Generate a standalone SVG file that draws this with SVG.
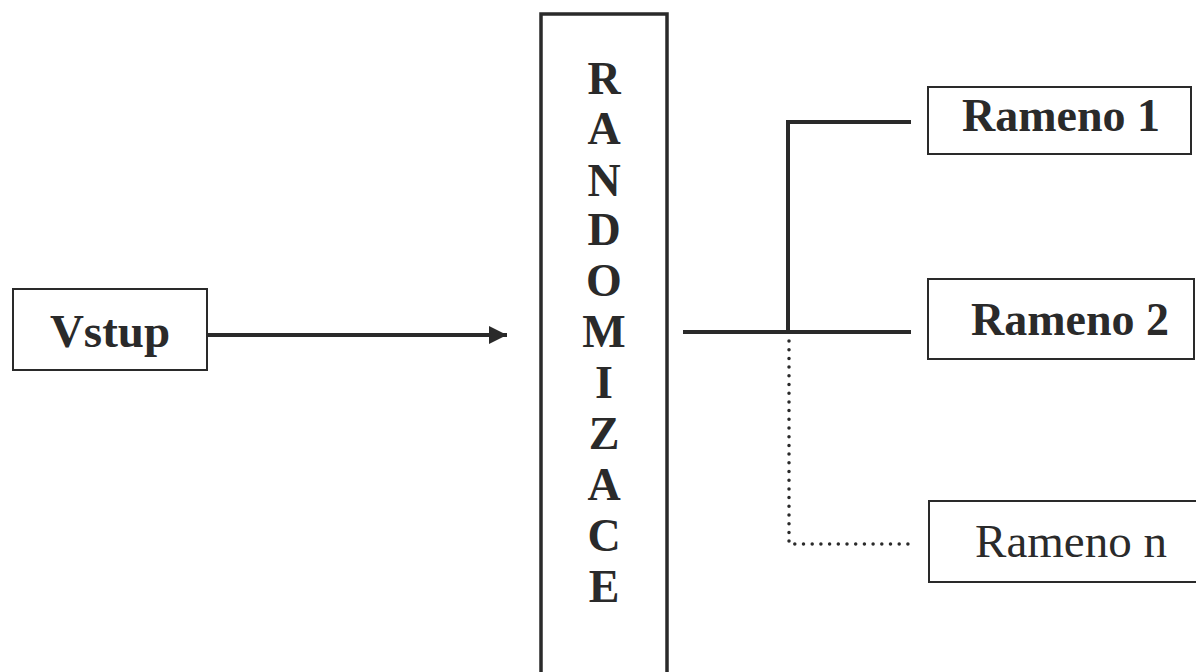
<svg xmlns="http://www.w3.org/2000/svg" width="1196" height="672" viewBox="0 0 1196 672">
<defs>
<style>
.box{fill:#fff;stroke:#2a2a2a;stroke-width:2}
.bigbox{fill:#fff;stroke:#2a2a2a;stroke-width:3.5}
.t{font-family:"Liberation Serif","Times New Roman",serif;fill:#2a2a2a;text-anchor:middle}
.b{font-weight:bold}
.ln{fill:none;stroke:#2a2a2a;stroke-width:4}
.dot{fill:none;stroke:#2a2a2a;stroke-width:3.5;stroke-linecap:round;stroke-dasharray:0 8.7}
</style>
<marker id="arr" viewBox="0 0 10 10" refX="10" refY="5" markerWidth="18" markerHeight="18" orient="auto" markerUnits="userSpaceOnUse">
<path d="M0,0 L10,5 L0,10 z" fill="#2a2a2a"/>
</marker>
</defs>
<rect width="1196" height="672" fill="#fff"/>
<g id="connectors">
<line class="ln" x1="207" y1="335" x2="507" y2="335" marker-end="url(#arr)"/>
<line class="ln" x1="683" y1="332" x2="911" y2="332"/>
<polyline class="ln" points="788,332 788,122 911,122"/>
<polyline class="dot" points="789,341 789,544 913,544"/>
</g>
<g id="vstup">
<rect class="box" x="13" y="289" width="194" height="81"/>
<text class="t b" x="110" y="347" font-size="47">Vstup</text>
</g>
<g id="randomizace">
<rect class="bigbox" x="541" y="14" width="126" height="680"/>
<g class="t b" font-size="46">
<text x="604" y="94">R</text>
<text x="604" y="144">A</text>
<text x="604" y="196">N</text>
<text x="604" y="245">D</text>
<text x="604" y="296">O</text>
<text x="604" y="347">M</text>
<text x="604" y="398">I</text>
<text x="604" y="449">Z</text>
<text x="604" y="500">A</text>
<text x="604" y="551">C</text>
<text x="604" y="602">E</text>
</g>
</g>
<g id="rameno1">
<rect class="box" x="928" y="87" width="263" height="67"/>
<text class="t b" x="1061" y="131" font-size="46">Rameno 1</text>
</g>
<g id="rameno2">
<rect class="box" x="928" y="279" width="266" height="80"/>
<text class="t b" x="1070" y="335" font-size="46">Rameno 2</text>
</g>
<g id="ramenon">
<rect class="box" x="929" y="501" width="270" height="81"/>
<text class="t" x="1071" y="557" font-size="47">Rameno n</text>
</g>
</svg>
